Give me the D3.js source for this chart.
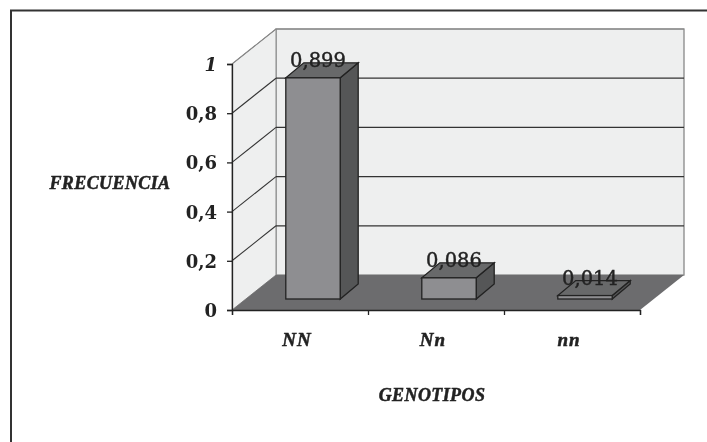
<!DOCTYPE html>
<html>
<head>
<meta charset="utf-8">
<script src="https://cdnjs.cloudflare.com/ajax/libs/d3/7.8.5/d3.min.js"></script>
<style>
body { margin: 0; background: #fff; }
svg { display: block; filter: blur(0.4px); }
.tick-label { font: bold 18px "DejaVu Serif"; fill: #222; }
.cat-label { font: italic bold 19px "Liberation Serif"; fill: #222; stroke: #222; stroke-width: 0.5px; letter-spacing: 1px; }
.title-label { font: italic bold 18px "Liberation Serif"; fill: #222; stroke: #222; stroke-width: 0.5px; letter-spacing: 0.4px; }
.value-label { font: 19.5px "DejaVu Serif"; fill: #222; stroke: #222; stroke-width: 0.4px; }
</style>
</head>
<body>
<svg id="chart" width="707" height="442"></svg>
<script>
var categories = ["NN", "Nn", "nn"],
    values = [0.899, 0.086, 0.014],
    valueLabels = ["0,899", "0,086", "0,014"],
    yTicks = [0, 0.2, 0.4, 0.6, 0.8, 1],
    yTickLabels = ["0", "0,2", "0,4", "0,6", "0,8", "1"];

var svg = d3.select("#chart");

var x = d3.scaleBand()
    .domain(categories)
    .range([232, 640])
    .paddingInner(0.6)
    .paddingOuter(0.3);

var y = d3.scaleLinear().domain([0, 1]).range([310, 64]);

// 3d offsets: whole floor depth, gap in front of the bar, bar depth
var wall = {dx: 44, dy: -35},
    gap = {dx: 13, dy: -11},
    depth = {dx: 18, dy: -15};

var x0 = x.range()[0],
    x1 = x.range()[1];

function pts(list) {
    return list.map(function (p) {
        return p.join(",");
    }).join(" ");
}

// Frame, only top and left
svg.append("path")
    .attr("d", "M11,442V10.5H707")
    .attr("fill", "none")
    .attr("stroke", "#333")
    .attr("stroke-width", 2);

// Back wall
svg.append("rect")
    .attr("x", x0 + wall.dx)
    .attr("y", y(1) + wall.dy)
    .attr("width", x1 - x0)
    .attr("height", y(0) - y(1))
    .attr("fill", "#eeefef")
    .attr("stroke", "#888")
    .attr("stroke-width", 1.3);

// Side wall
svg.append("polygon")
    .attr("points", pts([
        [x0, y(0)], [x0, y(1)],
        [x0 + wall.dx, y(1) + wall.dy], [x0 + wall.dx, y(0) + wall.dy]
    ]))
    .attr("fill", "#eeefef")
    .attr("stroke", "#888");

// Floor
svg.append("polygon")
    .attr("points", pts([
        [x0, y(0)], [x1, y(0)],
        [x1 + wall.dx, y(0) + wall.dy], [x0 + wall.dx, y(0) + wall.dy]
    ]))
    .attr("fill", "#6c6c6e");

// Grid on back wall and side wall
var grid = yTicks.filter(function (d) {
    return d > 0;
});

svg.selectAll(".grid-back")
    .data(grid)
    .enter().append("line")
    .attr("class", "grid-back")
    .attr("x1", x0 + wall.dx)
    .attr("x2", x1 + wall.dx)
    .attr("y1", function (d) { return y(d) + wall.dy; })
    .attr("y2", function (d) { return y(d) + wall.dy; })
    .attr("stroke", function (d) { return d === 1 ? "#888" : "#333"; })
    .attr("stroke-width", function (d) { return d === 1 ? 1 : 1.3; });

svg.selectAll(".grid-side")
    .data(grid)
    .enter().append("line")
    .attr("class", "grid-side")
    .attr("x1", x0)
    .attr("x2", x0 + wall.dx)
    .attr("y1", function (d) { return y(d); })
    .attr("y2", function (d) { return y(d) + wall.dy; })
    .attr("stroke", function (d) { return d === 1 ? "#888" : "#333"; })
    .attr("stroke-width", 1.1);

// Bars
var bars = svg.selectAll(".bar")
    .data(categories)
    .enter().append("g")
    .attr("class", "bar");

function corners(c, i) {
    var left = x(c) + gap.dx,
        right = left + x.bandwidth(),
        bottom = y(0) + gap.dy,
        top = bottom - (y(0) - y(values[i]));
    return {left: left, right: right, bottom: bottom, top: top};
}

bars.append("polygon")
    .attr("points", function (c, i) {
        var b = corners(c, i);
        return pts([
            [b.right, b.bottom], [b.right, b.top],
            [b.right + depth.dx, b.top + depth.dy], [b.right + depth.dx, b.bottom + depth.dy]
        ]);
    })
    .attr("fill", "#555657")
    .attr("stroke", "#222")
    .attr("stroke-width", 1.3);

bars.append("polygon")
    .attr("points", function (c, i) {
        var b = corners(c, i);
        return pts([
            [b.left, b.top], [b.right, b.top],
            [b.right + depth.dx, b.top + depth.dy], [b.left + depth.dx, b.top + depth.dy]
        ]);
    })
    .attr("fill", "#68696a")
    .attr("stroke", "#222")
    .attr("stroke-width", 1.3);

bars.append("rect")
    .attr("x", function (c, i) { return corners(c, i).left; })
    .attr("y", function (c, i) { return corners(c, i).top; })
    .attr("width", x.bandwidth())
    .attr("height", function (c, i) {
        var b = corners(c, i);
        return b.bottom - b.top;
    })
    .attr("fill", "#8e8e91")
    .attr("stroke", "#222")
    .attr("stroke-width", 1.3);

bars.append("text")
    .attr("class", "value-label")
    .attr("text-anchor", "middle")
    .attr("x", function (c, i) { return corners(c, i).left + x.bandwidth() / 2 + 5; })
    .attr("y", function (c, i) { return corners(c, i).top + depth.dy + 4; })
    .text(function (c, i) { return valueLabels[i]; });

// Y axis
var yAxis = d3.axisLeft(y)
    .tickValues(yTicks)
    .tickSize(5)
    .tickFormat(function (d, i) { return yTickLabels[i]; });

var yg = svg.append("g")
    .attr("transform", "translate(" + x0 + ",0)")
    .call(yAxis);
yg.selectAll("path, line").attr("stroke", "#222").attr("stroke-width", 1.3);
yg.selectAll("text")
    .attr("class", "tick-label")
    .attr("x", -15)
    .attr("dy", "0.36em")
    .style("font-style", function (d) { return d === 1 ? "italic" : "normal"; });

// X axis, ticks on the band edges
var xAxis = d3.axisBottom(d3.scaleLinear().domain([0, 3]).range([x0, x1]))
    .tickValues([0, 1, 2, 3])
    .tickSize(5)
    .tickFormat("");

var xg = svg.append("g")
    .attr("transform", "translate(0," + y(0) + ")")
    .call(xAxis);
xg.selectAll("path, line").attr("stroke", "#222").attr("stroke-width", 1.3);

svg.selectAll(".cat-label")
    .data(categories)
    .enter().append("text")
    .attr("class", "cat-label")
    .attr("text-anchor", "middle")
    .attr("x", function (c) { return x(c) + x.bandwidth() / 2 - 3; })
    .attr("y", 346)
    .text(function (c) { return c; });

svg.append("text")
    .attr("class", "title-label")
    .attr("text-anchor", "middle")
    .attr("x", 110)
    .attr("y", 189)
    .text("FRECUENCIA");

svg.append("text")
    .attr("class", "title-label")
    .attr("text-anchor", "middle")
    .attr("x", 432)
    .attr("y", 401)
    .text("GENOTIPOS");
</script>
</body>
</html>
